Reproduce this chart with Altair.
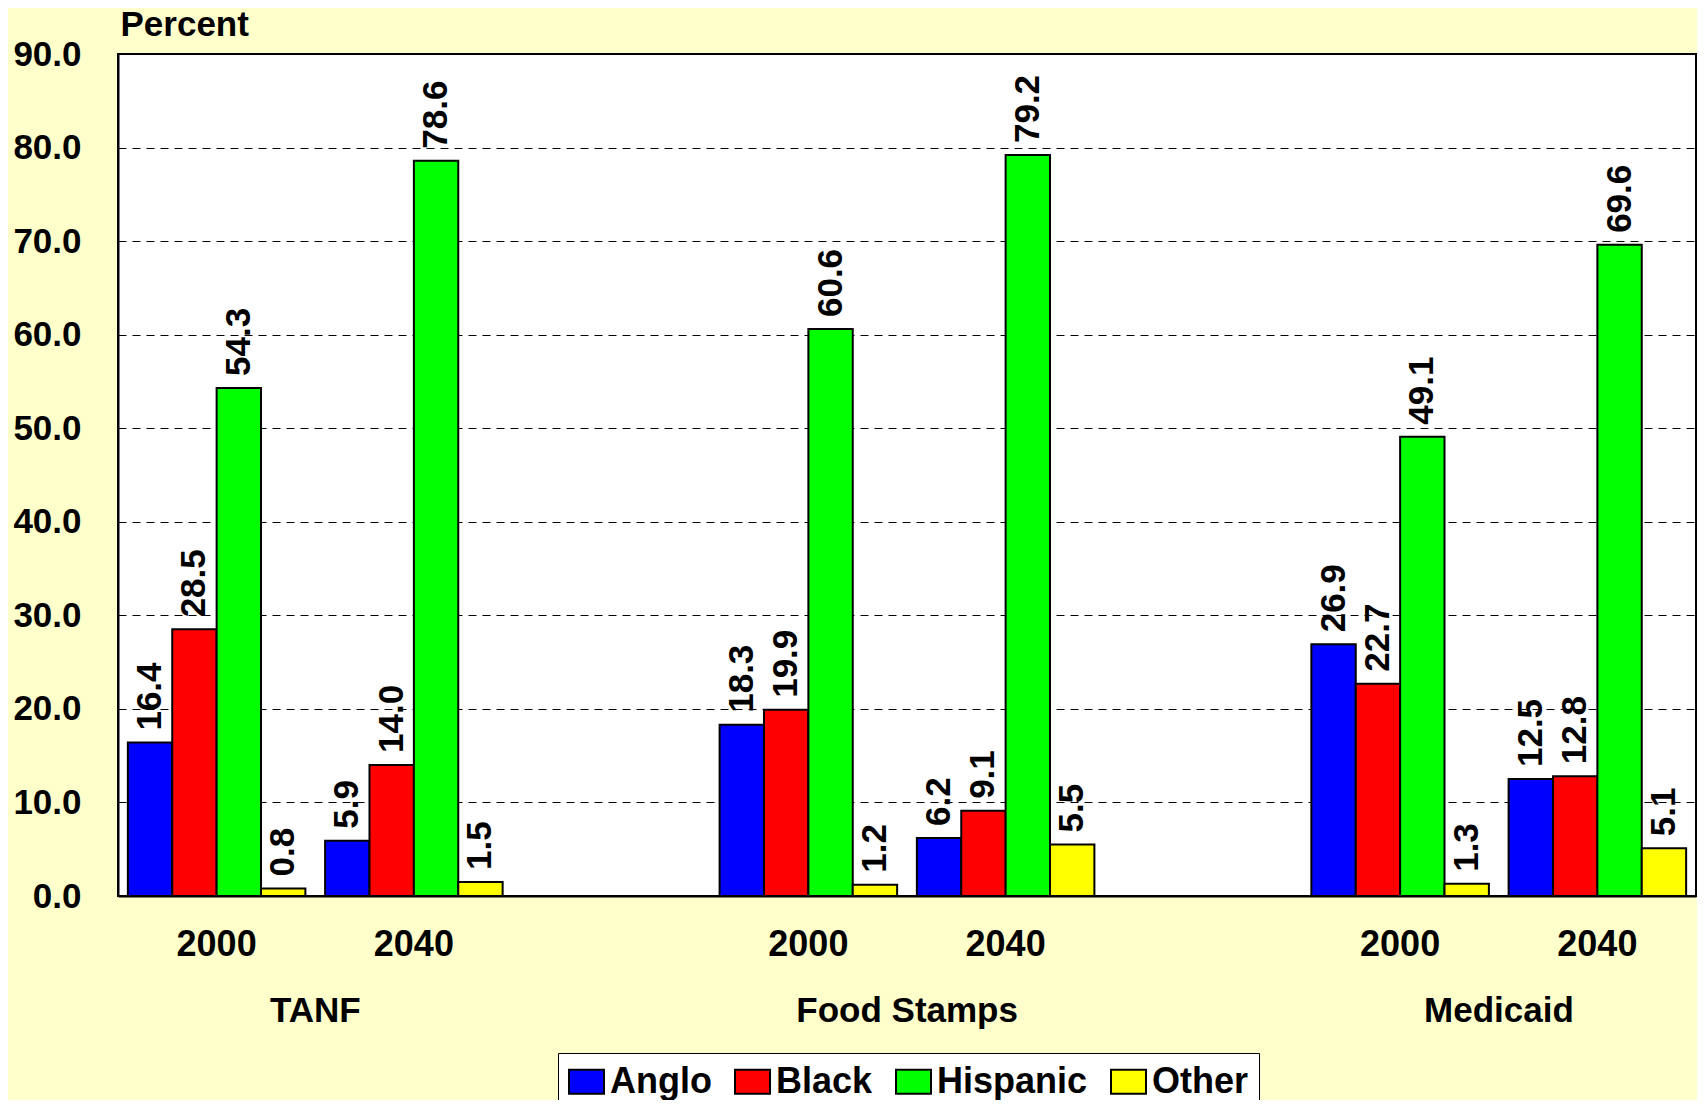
import altair as alt
import pandas as pd

# ---- data ----
programs = ["TANF", "Food Stamps", "Medicaid"]
years = ["2000", "2040"]
races = ["Anglo", "Black", "Hispanic", "Other"]
colors = ["#0000FF", "#FF0000", "#00FF00", "#FFFF00"]

tanf_2000 = [16.4, 28.5, 54.3, 0.8]
tanf_2040 = [5.9, 14.0, 78.6, 1.5]
fs_2000 = [18.3, 19.9, 60.6, 1.2]
fs_2040 = [6.2, 9.1, 79.2, 5.5]
med_2000 = [26.9, 22.7, 49.1, 1.3]
med_2040 = [12.5, 12.8, 69.6, 5.1]

series = {
    ("TANF", "2000"): tanf_2000,
    ("TANF", "2040"): tanf_2040,
    ("Food Stamps", "2000"): fs_2000,
    ("Food Stamps", "2040"): fs_2040,
    ("Medicaid", "2000"): med_2000,
    ("Medicaid", "2040"): med_2040,
}

# category slots (with an empty slot between programs)
slots = []
for i, p in enumerate(programs):
    for y in years:
        slots.append(f"{p}|{y}")
    if i < len(programs) - 1:
        slots.append(f"gap{i}")

rows = []
for (p, y), vals in series.items():
    for r, v in zip(races, vals):
        rows.append({"slot": f"{p}|{y}", "program": p, "year": y, "race": r, "value": v})
df = pd.DataFrame(rows)

prog_df = pd.DataFrame({"program": programs, "slot": [f"{p}|{years[0]}" for p in programs]})

FONT = "Liberation Sans"

x_scale = alt.Scale(domain=slots, paddingInner=0.1, paddingOuter=0.05)

x_enc = alt.X(
    "slot:N",
    scale=x_scale,
    sort=slots,
    axis=alt.Axis(
        title=None,
        labelExpr="indexof(datum.value, '|') >= 0 ? split(datum.value, '|')[1] : ''",
        labelAngle=0,
        labelFont=FONT,
        labelFontSize=36,
        labelFontWeight="bold",
        labelColor="black",
        labelPadding=31,
        ticks=False,
        tickSize=0,
        grid=False,
        domainColor="black",
        domainWidth=2,
    ),
)

y_enc = alt.Y(
    "value:Q",
    scale=alt.Scale(domain=[0, 90], nice=False, zero=True),
    axis=alt.Axis(
        values=list(range(0, 91, 10)),
        format=".1f",
        labelFont=FONT,
        labelFontSize=35,
        labelFontWeight="bold",
        labelColor="black",
        labelPadding=37,
        ticks=False,
        tickSize=0,
        grid=True,
        gridColor="black",
        gridDash=[8, 6],
        gridWidth=1,
        gridOpacity=1,
        domainColor="black",
        domainWidth=2,
        title="Percent",
        titleAngle=0,
        titleX=2,
        titleY=-19,
        titleAlign="left",
        titleBaseline="alphabetic",
        titleFont=FONT,
        titleFontSize=35,
        titleFontWeight="bold",
        titleColor="black",
    ),
)

xoff = alt.XOffset("race:N", scale=alt.Scale(domain=races, paddingInner=0, paddingOuter=0), sort=races)

bars = alt.Chart(df).mark_bar(stroke="black", strokeWidth=2, opacity=1).encode(
    x=x_enc,
    xOffset=xoff,
    y=y_enc,
    color=alt.Color(
        "race:N",
        scale=alt.Scale(domain=races, range=colors),
        sort=races,
        legend=alt.Legend(
            orient="none",
            legendX=440,
            legendY=999,
            direction="horizontal",
            title=None,
            labelFont=FONT,
            labelFontSize=36,
            labelFontWeight="bold",
            labelColor="black",
            labelLimit=400,
            labelOffset=5,
            columnPadding=19,
            padding=10,
            symbolType="M-1,-0.686H1V0.686H-1Z",
            symbolSize=1225,
            symbolStrokeColor="black",
            symbolStrokeWidth=2,
            symbolOpacity=1,
            strokeColor="black",
            fillColor="white",
        ),
    ),
)

labels = alt.Chart(df).mark_text(
    angle=270,
    align="left",
    baseline="middle",
    dx=12,
    font=FONT,
    fontSize=35,
    fontWeight="bold",
    color="black",
).encode(
    x=alt.X("slot:N", scale=x_scale, sort=slots),
    xOffset=xoff,
    y=alt.Y("value:Q"),
    text=alt.Text("value:Q", format=".1f"),
)

prog_labels = alt.Chart(prog_df).mark_text(
    align="center",
    baseline="alphabetic",
    dx=10,
    font=FONT,
    fontSize=35,
    fontWeight="bold",
    color="black",
).encode(
    x=alt.X("slot:N", scale=x_scale, sort=slots, bandPosition=1),
    y=alt.value(968),
    text="program:N",
)

chart = (
    alt.layer(bars, labels, prog_labels)
    .properties(
        width=1578,
        height=842,
        autosize=alt.AutoSizeParams(type="none"),
        padding={"left": 110, "top": 46, "right": 1, "bottom": 204},
        background="#FFFFCC",
    )
    .configure_view(stroke="black", strokeWidth=2, fill="white")
)

chart.save("out.html", embed_options={"renderer": "svg", "actions": False})
